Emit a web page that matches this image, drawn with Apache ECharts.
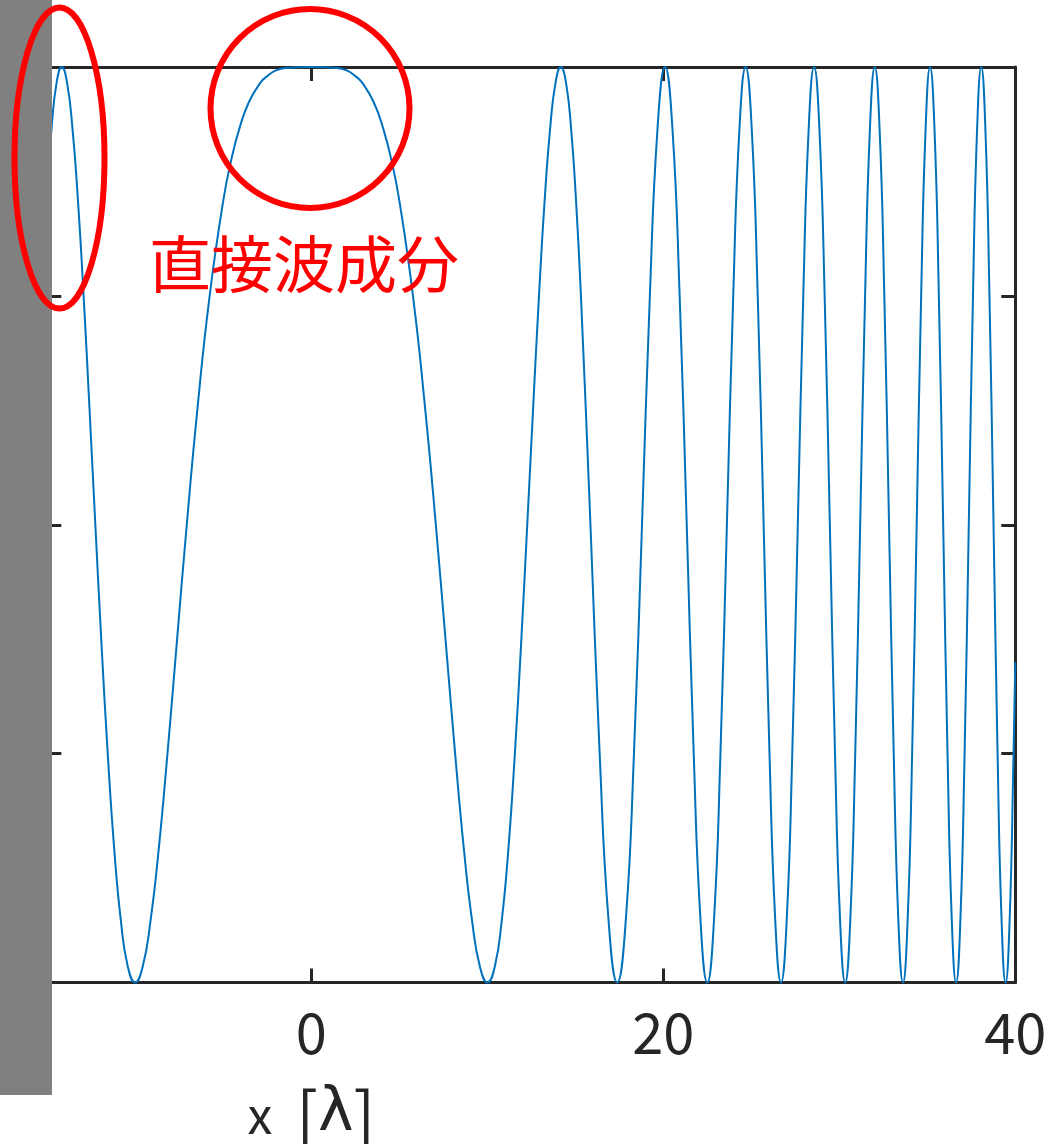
<!DOCTYPE html>
<html>
<head>
<meta charset="utf-8">
<script src="https://cdn.jsdelivr.net/npm/echarts@6/dist/echarts.min.js"></script>
<style>
  html, body { margin: 0; padding: 0; background: #ffffff; }
  #chart { width: 1054px; height: 1144px; }
</style>
</head>
<body>
<div id="chart"></div>
<script>
// Tick positions on the x axis (in wavelengths) and on the intensity axis
const xTicks = [0, 20, 40];
const yTickStep = 0.25;

// Sampled interference pattern: position x [λ] and normalised intensity
const xSamples = [
  -15, -14.759, -14.471, -14.177, -13.878, -13.571, -13.258, -12.937, -12.608,
  -12.270, -11.924, -11.566, -11.198, -10.817, -10.422, -10.013, -9.585, -9.138,
  -8.668, -8.172, -7.643, -7.076, -6.458, -5.776, -5.002, -4.566, -4.083, -3.536,
  -2.887, -2.500, -2.041, -1.443,
  0,
  1.443, 2.041, 2.500, 2.887, 3.536, 4.083, 4.566, 5.002, 5.776, 6.458, 7.076,
  7.643, 8.172, 8.668, 9.138, 9.585, 10.013, 10.422, 10.817, 11.198, 11.566,
  11.924, 12.270, 12.608, 12.937, 13.258, 13.571, 13.878, 14.177, 14.471, 14.759,
  15.042, 15.320, 15.861, 16.384, 16.892, 17.385, 17.865,
  18.333, 18.790, 19.236, 19.672, 20.100, 20.518, 20.929, 21.332, 21.728, 22.117,
  22.500, 22.877, 23.247, 23.613, 23.973, 24.328, 24.678, 25.023, 25.365, 25.701,
  26.034, 26.363, 26.688, 27.009, 27.327, 27.642, 27.953, 28.261, 28.566, 28.868,
  29.167, 29.463, 29.756, 30.047, 30.336, 30.621, 30.905, 31.186, 31.465, 31.741,
  32.016, 32.288, 32.558, 32.826, 33.092, 33.357, 33.619, 33.880, 34.139, 34.396,
  34.651, 34.905, 35.157, 35.407, 35.656, 35.903, 36.149, 36.394, 36.637, 36.878,
  37.118, 37.357, 37.595, 37.831, 38.066, 38.299, 38.532, 38.763, 38.993, 39.222,
  39.449, 39.676, 39.901, 40
];
const ySamples = [
  0.867, 0.933, 0.983, 1, 0.983, 0.933, 0.854, 0.75, 0.629,
  0.5, 0.371, 0.25, 0.146, 0.067, 0.017, 0, 0.017, 0.067,
  0.146, 0.25, 0.371, 0.5, 0.629, 0.75, 0.854, 0.897, 0.933, 0.962,
  0.983, 0.990, 0.996, 0.999,
  1,
  0.999, 0.996, 0.990, 0.983, 0.962, 0.933, 0.897, 0.854, 0.75, 0.629, 0.5,
  0.371, 0.25, 0.146, 0.067, 0.017, 0, 0.017, 0.067, 0.146, 0.25,
  0.371, 0.5, 0.629, 0.75, 0.854, 0.933, 0.983, 1, 0.983, 0.933,
  0.854, 0.75, 0.5, 0.25, 0.067, 0, 0.067,
  0.25, 0.5, 0.75, 0.933, 1, 0.933, 0.75, 0.5, 0.25, 0.067,
  0, 0.067, 0.25, 0.5, 0.75, 0.933, 1, 0.933, 0.75, 0.5,
  0.25, 0.067, 0, 0.067, 0.25, 0.5, 0.75, 0.933, 1, 0.933,
  0.75, 0.5, 0.25, 0.067, 0, 0.067, 0.25, 0.5, 0.75, 0.933,
  1, 0.933, 0.75, 0.5, 0.25, 0.067, 0, 0.067, 0.25, 0.5,
  0.75, 0.933, 1, 0.933, 0.75, 0.5, 0.25, 0.067, 0, 0.067,
  0.25, 0.5, 0.75, 0.933, 1, 0.933, 0.75, 0.5, 0.25, 0.067,
  0, 0.067, 0.25, 0.35
];

const annotation = '直接波成分';

const axisColor = '#262626';
const lineColor = '#0072BD';
const accent = '#ff0000';

const chart = echarts.init(document.getElementById('chart'), null, { renderer: 'canvas' });

const points = xSamples.map((x, i) => [x, ySamples[i]]);

const baseX = {
  type: 'value',
  min: -15,
  max: 40,
  splitLine: { show: false },
  axisLine: { show: true, onZero: false, lineStyle: { color: axisColor, width: 3 } },
  axisTick: { show: true, inside: true, length: 14, customValues: xTicks, lineStyle: { color: axisColor, width: 3 } }
};
const baseY = {
  type: 'value',
  min: 0,
  max: 1,
  interval: yTickStep,
  splitLine: { show: false },
  axisLabel: { show: false },
  axisLine: { show: true, onZero: false, lineStyle: { color: axisColor, width: 3 } },
  axisTick: { show: true, inside: true, length: 14, lineStyle: { color: axisColor, width: 3 } }
};

chart.setOption({
  animation: false,
  backgroundColor: '#ffffff',
  grid: {
    left: 47.3, right: 38.7, top: 67, bottom: 161.5,
    containLabel: false, outerBoundsMode: 'none'
  },
  xAxis: [
    Object.assign({}, baseX, {
      position: 'bottom',
      axisLabel: {
        show: true, customValues: xTicks, margin: 22,
        fontSize: 56, color: axisColor, fontFamily: 'Noto Sans CJK JP'
      },
      name: '{x|x}{s| }{br|[}{l|λ}{br|]}',
      nameLocation: 'middle',
      nameGap: 100,
      nameTextStyle: {
        padding: [0, 440, 0, 0],
        rich: {
          x: { fontSize: 50, color: axisColor, fontFamily: 'Noto Sans CJK JP' },
          s: { fontSize: 50, width: 24 },
          br: { fontSize: 64, color: axisColor, fontFamily: 'Noto Sans CJK JP' },
          l: { fontSize: 60, color: axisColor, fontFamily: 'DejaVu Sans' }
        }
      }
    }),
    Object.assign({}, baseX, { position: 'top', axisLabel: { show: false } })
  ],
  yAxis: [
    Object.assign({}, baseY, { position: 'left' }),
    Object.assign({}, baseY, { position: 'right' })
  ],
  series: [{
    type: 'line',
    xAxisIndex: 0,
    yAxisIndex: 0,
    data: points,
    showSymbol: false,
    smooth: true,
    clip: false,
    lineStyle: { color: lineColor, width: 2 },
    z: 3
  }],
  graphic: [
    { type: 'rect', z: 100, shape: { x: 0, y: 0, width: 52, height: 1095 }, style: { fill: '#808080' } },
    { type: 'ellipse', z: 110, shape: { cx: 59.5, cy: 158, rx: 45, ry: 150.5 }, style: { fill: null, stroke: accent, lineWidth: 6 } },
    { type: 'circle', z: 110, shape: { cx: 310, cy: 108.5, r: 99.5 }, style: { fill: null, stroke: accent, lineWidth: 6 } },
    { type: 'text', z: 110, x: 149, y: 264, style: { text: annotation, fill: accent, fontSize: 62, fontFamily: 'Noto Sans CJK JP', verticalAlign: 'middle' } }
  ]
});
</script>
</body>
</html>
